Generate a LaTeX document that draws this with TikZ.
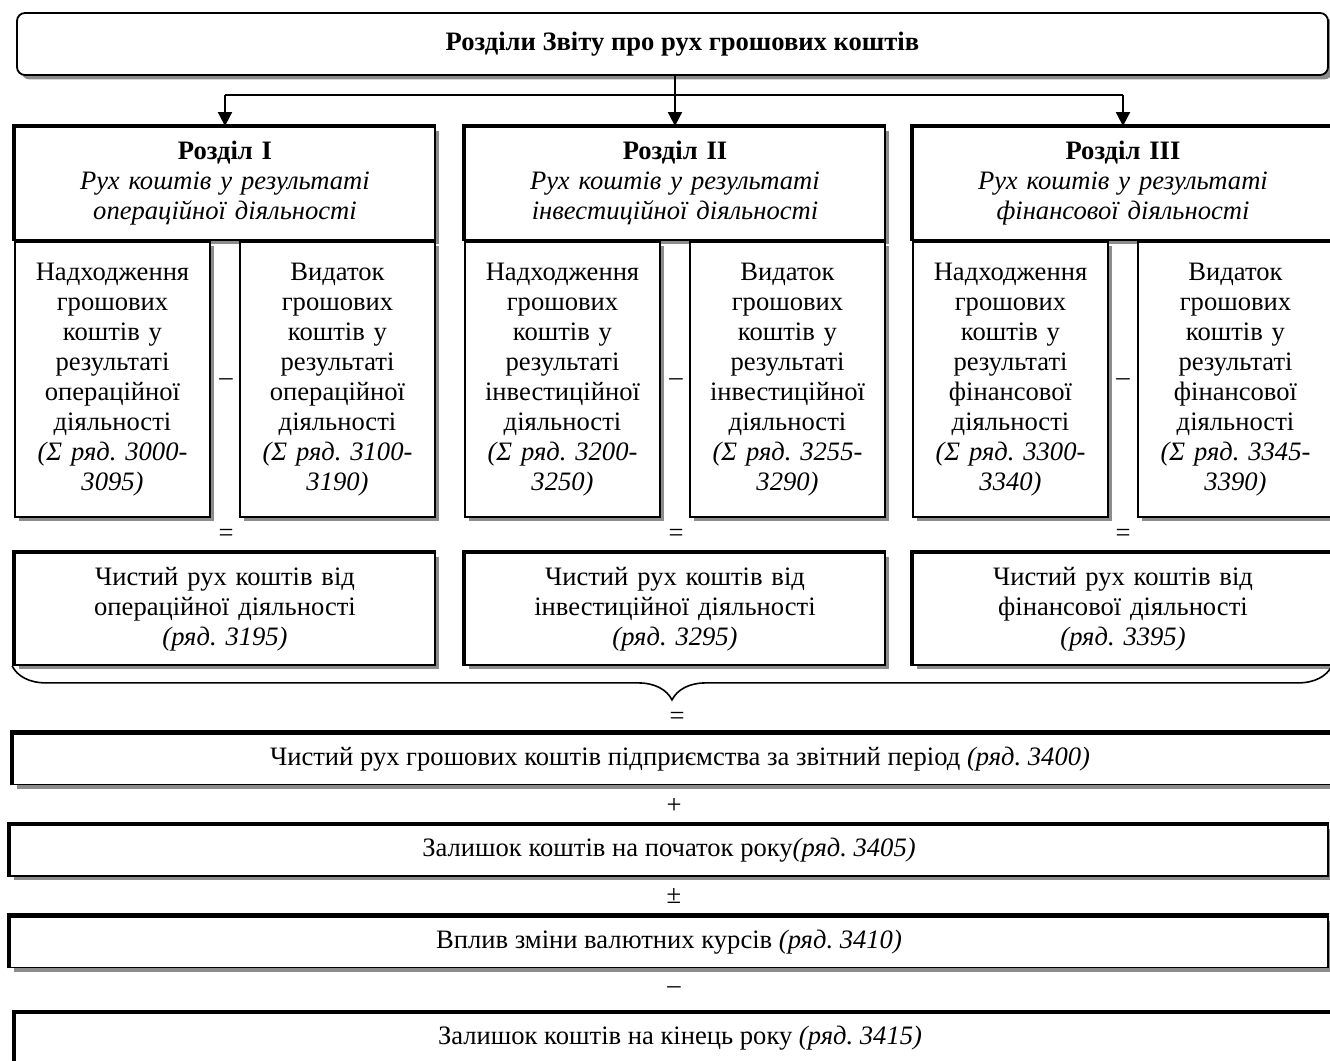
\documentclass[tikz,border=0pt]{standalone}
\usepackage{fontspec}
\setmainfont{Liberation Serif}
\usetikzlibrary{positioning,shadows,decorations.pathreplacing,arrows.meta}
\frenchspacing

\tikzset{
  box/.style={draw, line width=0.9pt, fill=white, align=center, inner sep=1pt,
    font=\fontsize{13.3}{15}\selectfont,
    execute at begin node={\strut}, execute at end node={\strut},
    drop shadow={shadow xshift=2.2pt, shadow yshift=-2.2pt, fill=black!45, opacity=1}},
  titlebox/.style={box, rounded corners=4pt, minimum width=655.5pt, minimum height=31pt},
  headbox/.style={box, minimum width=210pt, minimum height=56.5pt, text width=205pt},
  partbox/.style={box, minimum width=97.5pt, minimum height=137.5pt, text width=95pt},
  netbox/.style={box, minimum width=210pt, minimum height=56pt, text width=205pt},
  widebox/.style={box, minimum height=25.5pt},
  thickedge/.style={line width=2.2pt},
  sign/.style={font=\fontsize{13.3}{15}\selectfont, inner sep=0pt},
  arr/.style={line width=0.9pt, -{Triangle[width=7pt,length=7pt]}},
}

\begin{document}
\begin{tikzpicture}[x=0.5pt, y=-0.5pt]
  \useasboundingbox (0,0) rectangle (1330,1061);

  % title
  \node[titlebox] (title) at (672.5,44) {\hspace*{10pt}\textbf{Розділи Звіту про рух грошових коштів}};

  % sections
  \node[headbox] (h1) at (225,183.5) {\textbf{Розділ I}\\ \textit{Рух коштів у результаті}\\ \textit{операційної діяльності}};
  \node[headbox] (h2) at (675,183.5) {\textbf{Розділ II}\\ \textit{Рух коштів у результаті}\\ \textit{інвестиційної діяльності}};
  \node[headbox] (h3) at (1123,183.5) {\textbf{Розділ III}\\ \textit{Рух коштів у результаті}\\ \textit{фінансової діяльності}};

  \node[partbox, below right=0pt of h1.south west] (p1a) {Надходження\\ грошових\\ коштів у\\ результаті\\ операційної\\ діяльності\\ \textit{(Σ ряд. 3000-}\\ \textit{3095)}};
  \node[partbox, below left=0pt of h1.south east] (p1b) {Видаток\\ грошових\\ коштів у\\ результаті\\ операційної\\ діяльності\\ \textit{(Σ ряд. 3100-}\\ \textit{3190)}};
  \node[partbox, below right=0pt of h2.south west] (p2a) {Надходження\\ грошових\\ коштів у\\ результаті\\ інвестиційної\\ діяльності\\ \textit{(Σ ряд. 3200-}\\ \textit{3250)}};
  \node[partbox, below left=0pt of h2.south east] (p2b) {Видаток\\ грошових\\ коштів у\\ результаті\\ інвестиційної\\ діяльності\\ \textit{(Σ ряд. 3255-}\\ \textit{3290)}};
  \node[partbox, below right=0pt of h3.south west] (p3a) {Надходження\\ грошових\\ коштів у\\ результаті\\ фінансової\\ діяльності\\ \textit{(Σ ряд. 3300-}\\ \textit{3340)}};
  \node[partbox, below left=0pt of h3.south east] (p3b) {Видаток\\ грошових\\ коштів у\\ результаті\\ фінансової\\ діяльності\\ \textit{(Σ ряд. 3345-}\\ \textit{3390)}};

  \node[sign] (m1) at (226,382) {–};
  \node[sign] (m2) at (676,382) {–};
  \node[sign] (m3) at (1123,382) {–};

  \node[sign] (e1) at (226,535) {=};
  \node[sign] (e2) at (676,535) {=};
  \node[sign] (e3) at (1123,535) {=};

  \node[netbox] (n1) at (225,609) {Чистий рух коштів від\\ операційної діяльності\\ \textit{(ряд. 3195)}};
  \node[netbox] (n2) at (675,609) {Чистий рух коштів від\\ інвестиційної діяльності\\ \textit{(ряд. 3295)}};
  \node[netbox] (n3) at (1123,609) {Чистий рух коштів від\\ фінансової діяльності\\ \textit{(ряд. 3395)}};

  % totals
  \node[sign] (e4) at (677,718) {=};
  \node[widebox, minimum width=667pt] (w1) at (680,759) {Чистий рух грошових коштів підприємства за звітний період \textit{(ряд. 3400)}};
  \node[sign] (plus) at (674,806) {+};
  \node[widebox, minimum width=659pt] (w2) at (669,850.5) {Залишок коштів на початок року\textit{(ряд. 3405)}};
  \node[sign] (pm) at (674,896) {±};
  \node[widebox, minimum width=659pt] (w3) at (669,942) {Вплив зміни валютних курсів \textit{(ряд. 3410)}};
  \node[sign] (m4) at (674,990) {–};
  \node[widebox, minimum width=665pt] (w4) at (680,1038.5) {Залишок коштів на кінець року \textit{(ряд. 3415)}};

  \foreach \n in {h1,h2,h3,n1,n2,n3,w1,w2,w3,w4}
    \draw[thickedge] (\n.south west) -- (\n.north west) -- (\n.north east);

  % arrows
  \coordinate (fork) at (675,95);
  \draw[line width=0.9pt] (title.south -| fork) -- (fork);
  \draw[line width=0.9pt] (h1.north |- fork) -- (h3.north |- fork);
  \foreach \n in {h1,h2,h3}
    \draw[arr] (\n.north |- fork) -- (\n.north);

  % brace
  \draw[line width=0.8pt, decorate, decoration={brace, mirror, amplitude=17pt}]
    ([xshift=-1pt]n1.south west) -- ([xshift=-1pt]n3.south east);
\end{tikzpicture}
\end{document}
